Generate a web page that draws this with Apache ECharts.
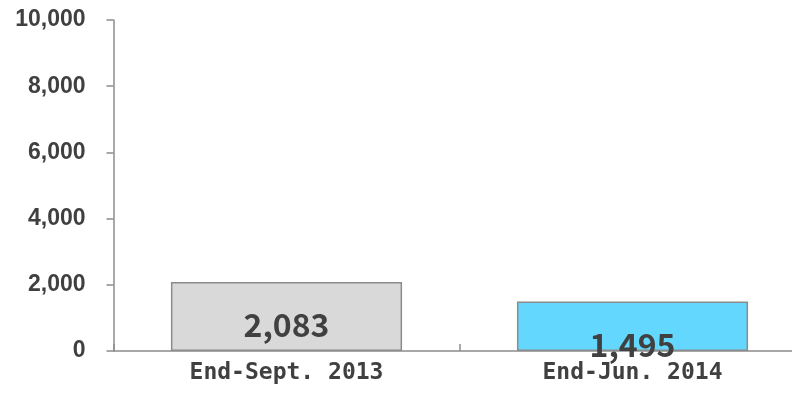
<!DOCTYPE html>
<html>
<head>
<meta charset="utf-8">
<script src="https://cdn.jsdelivr.net/npm/echarts@6/dist/echarts.min.js"></script>
<style>
  html, body { margin: 0; padding: 0; background: #ffffff; }
  #chart { width: 792px; height: 395px; }
</style>
</head>
<body>
<div id="chart"></div>
<script>
// Outstanding balance at two reporting dates
const categories = ['End-Sept. 2013', 'End-Jun. 2014'];
const values = [2083, 1495];
const barColors = ['#d9d9d9', '#63d7fd'];

const yMin = 0;
const yMax = 10000;
const yInterval = 2000;

const chart = echarts.init(document.getElementById('chart'));

chart.setOption({
  animation: false,
  grid: { left: 113.5, width: 692, top: 20, bottom: 44, outerBoundsMode: 'none', containLabel: false },
  xAxis: {
    type: 'category',
    data: categories,
    boundaryGap: true,
    axisLine: { lineStyle: { color: '#8c8c8c', width: 1.5 } },
    axisTick: { show: true, inside: true, length: 7, lineStyle: { color: '#8c8c8c', width: 1.5 } },
    axisLabel: {
      color: '#404040',
      fontFamily: 'DejaVu Sans Mono',
      fontWeight: 'bold',
      fontSize: 23,
      margin: 11
    }
  },
  yAxis: {
    type: 'value',
    min: yMin,
    max: yMax,
    interval: yInterval,
    splitLine: { show: false },
    axisLine: { show: true, lineStyle: { color: '#8c8c8c', width: 1.5 } },
    axisTick: { show: true, length: 7, lineStyle: { color: '#8c8c8c', width: 1.5 } },
    axisLabel: {
      color: '#404040',
      fontFamily: 'Liberation Sans',
      fontWeight: 'bold',
      fontSize: 23,
      margin: 28,
      formatter: v => v.toLocaleString('en-US')
    }
  },
  series: [{
    type: 'bar',
    barWidth: '66.8%',
    data: values.map((v, i) => ({
      value: v,
      itemStyle: { color: barColors[i] }
    })),
    itemStyle: { borderColor: '#8c8c8c', borderWidth: 1.5 },
    label: {
      show: true,
      position: 'insideTop',
      distance: 27,
      color: '#404040',
      fontFamily: 'Noto Sans CJK JP',
      fontWeight: 'bold',
      fontSize: 32,
      formatter: p => p.value.toLocaleString('en-US')
    }
  }]
});
</script>
</body>
</html>
